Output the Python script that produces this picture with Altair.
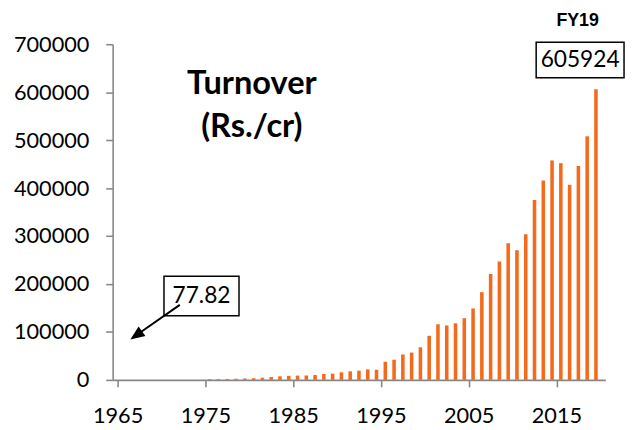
import altair as alt
import pandas as pd

years = [1966,
         1975, 1976, 1977, 1978, 1979, 1980, 1981, 1982, 1983, 1984,
         1985, 1986, 1987, 1988, 1989, 1990, 1991, 1992, 1993, 1994,
         1995, 1996, 1997, 1998, 1999, 2000, 2001, 2002, 2003, 2004,
         2005, 2006, 2007, 2008, 2009, 2010, 2011, 2012, 2013, 2014,
         2015, 2016, 2017, 2018, 2019]
turnover = [77.82,
            1500, 1700, 2000, 2500, 3000, 3600, 4500, 6000, 7500, 8500,
            9000, 9200, 10300, 12400, 13000, 15800, 17900, 19300, 22000, 21300,
            37900, 42000, 53000, 57000, 68000, 92000, 116000, 113500, 118000, 128700,
            149000, 183000, 221000, 247000, 285000, 270500, 303500, 375000, 415700, 457700,
            452000, 407000, 446000, 508000, 605924]
x_ticks = [1965, 1975, 1985, 1995, 2005, 2015]
y_ticks = [0, 100000, 200000, 300000, 400000, 500000, 600000, 700000]

df = pd.DataFrame({"year": years, "turnover": turnover})

FONT = "Lato"

bars = alt.Chart(df).transform_calculate(xc="datum.year + 0.5").mark_bar(
    size=3.6, color="#F36A1C"
).encode(
    x=alt.X("xc:Q",
            scale=alt.Scale(domain=[1965, 2020], nice=False, zero=False),
            axis=alt.Axis(values=x_ticks, format="d", title=None, grid=False,
                          labelPadding=19)),
    y=alt.Y("turnover:Q",
            scale=alt.Scale(domain=[0, 700000], nice=False),
            axis=alt.Axis(values=y_ticks, format="d", title=None, grid=False,
                          labelPadding=17)),
)

title_df = pd.DataFrame({"t": ["Turnover", "(Rs./cr)"], "py": [40, 84]})
title_txt = alt.Chart(title_df).mark_text(
    font=FONT, fontWeight="bold", fontSize=33, color="black", align="center", baseline="middle"
).encode(x=alt.value(141), y=alt.Y("py:Q", scale=None), text="t:N")

fy_df = pd.DataFrame({"t": ["FY19"]})
fy_txt = alt.Chart(fy_df).mark_text(
    font="Liberation Sans", fontWeight="bold", fontSize=18, color="black", align="center", baseline="middle"
).encode(x=alt.value(471), y=alt.value(-23), text="t:N")

last = alt.Chart(df).transform_filter("datum.year == 2019")
box_last = last.mark_rect(fill="white", stroke="black", strokeWidth=1.5).encode(
    x=alt.value(429), x2=alt.value(518), y=alt.value(-2), y2=alt.value(34))
txt_last = last.mark_text(font=FONT, fontSize=23, color="black", align="center", baseline="middle").encode(
    x=alt.value(473.5), y=alt.value(16), text=alt.Text("turnover:Q", format="d"))

first = alt.Chart(df).transform_filter("datum.year == 1966")
box_first = first.mark_rect(fill="white", stroke="black", strokeWidth=1.5).encode(
    x=alt.value(52), x2=alt.value(128), y=alt.value(235), y2=alt.value(275))
txt_first = first.mark_text(font=FONT, fontSize=23, color="black", align="center", baseline="middle").encode(
    x=alt.value(90), y=alt.value(255), text=alt.Text("turnover:Q", format=".2f"))
arrow_line = first.mark_rule(color="black", strokeWidth=2).encode(
    x=alt.value(68), y=alt.value(264), x2=alt.value(25), y2=alt.value(294))
arrow_head = first.mark_point(
    shape="M0,-1L0.75,0.8L-0.75,0.8Z", filled=True, color="black", opacity=1,
    size=256, angle=235, strokeWidth=0
).encode(x=alt.value(24.5), y=alt.value(294.4))

chart = alt.layer(
    bars, title_txt, fy_txt, box_last, txt_last, box_first, arrow_line, arrow_head, txt_first
).properties(
    width=499, height=340,
    autosize=alt.AutoSizeParams(type="none"),
    padding={"left": 106, "top": 34, "right": 22, "bottom": 46},
).configure_view(stroke=None).configure_axis(
    domainColor="#878787", tickColor="#878787", domainWidth=1.6, tickWidth=1.6,
    tickSize=7, labelFont=FONT, labelFontSize=22, labelColor="black",
)

chart.save("out.html", embed_options={"renderer": "svg", "actions": False})
